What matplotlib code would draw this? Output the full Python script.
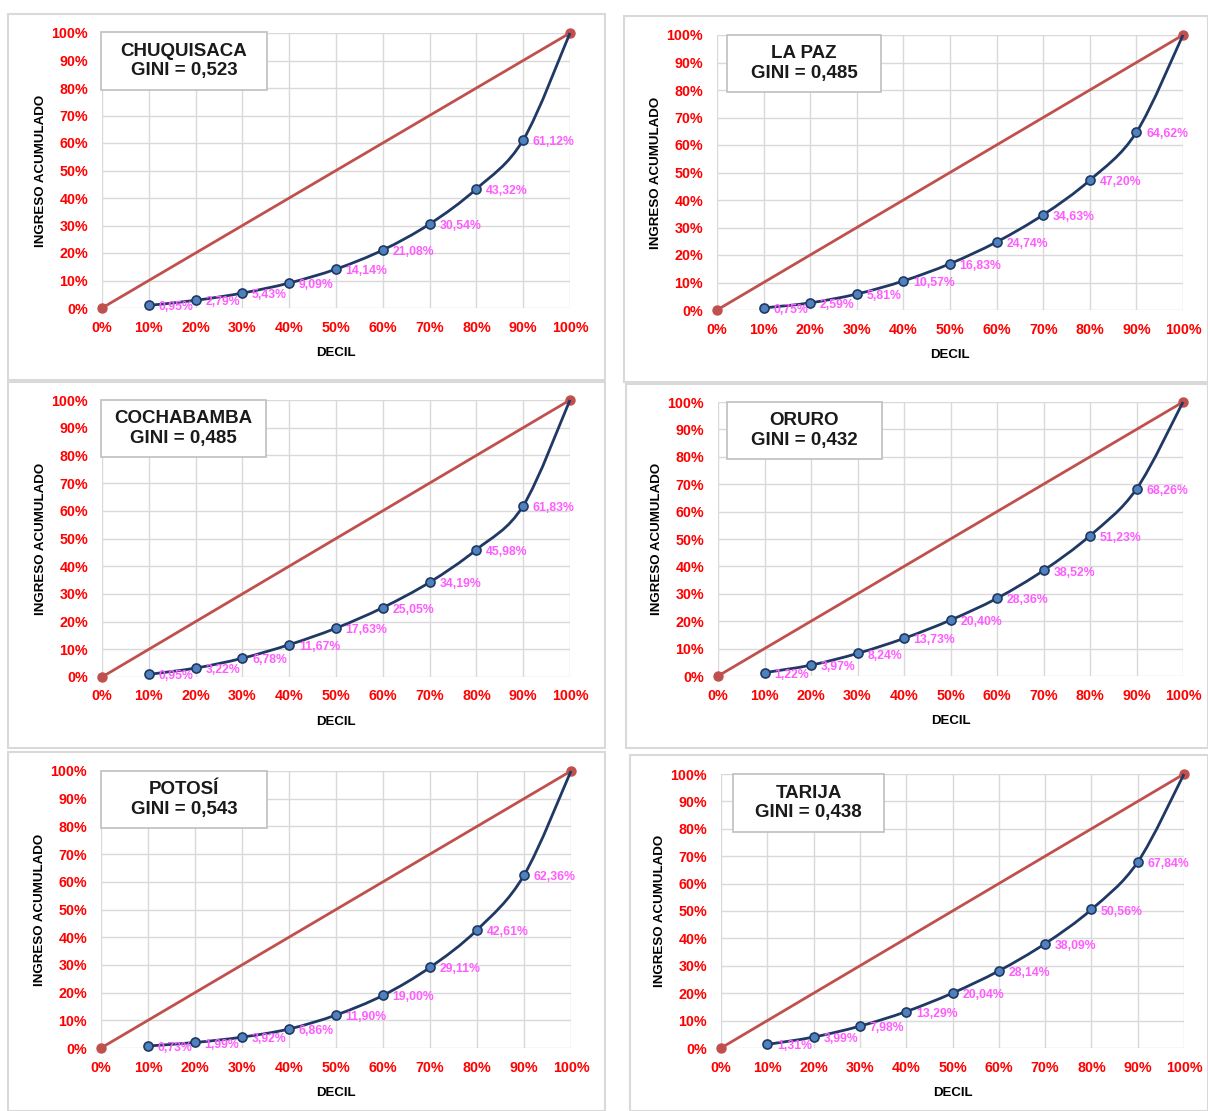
import matplotlib
matplotlib.use("Agg")
import matplotlib.pyplot as plt
from matplotlib.path import Path
from matplotlib.patches import PathPatch, Rectangle

plt.rcParams['font.family'] = ['Liberation Sans', 'DejaVu Sans']

W, H = 1208, 1111

deciles = [10, 20, 30, 40, 50, 60, 70, 80, 90]
x_ticks = [0, 10, 20, 30, 40, 50, 60, 70, 80, 90, 100]
tick_labels = ["0%", "10%", "20%", "30%", "40%", "50%", "60%", "70%", "80%", "90%", "100%"]

names = ["CHUQUISACA", "LA PAZ", "COCHABAMBA", "ORURO", "POTOSÍ", "TARIJA"]
ginis = ["0,523", "0,485", "0,485", "0,432", "0,543", "0,438"]

chuquisaca = [0.95, 2.79, 5.43, 9.09, 14.14, 21.08, 30.54, 43.32, 61.12]
la_paz = [0.75, 2.59, 5.81, 10.57, 16.83, 24.74, 34.63, 47.20, 64.62]
cochabamba = [0.95, 3.22, 6.78, 11.67, 17.63, 25.05, 34.19, 45.98, 61.83]
oruro = [1.22, 3.97, 8.24, 13.73, 20.40, 28.36, 38.52, 51.23, 68.26]
potosi = [0.73, 1.99, 3.92, 6.86, 11.90, 19.00, 29.11, 42.61, 62.36]
tarija = [1.31, 3.99, 7.98, 13.29, 20.04, 28.14, 38.09, 50.56, 67.84]
series = [chuquisaca, la_paz, cochabamba, oruro, potosi, tarija]

# layout in pixels: panel box, plot area, title box (x0,y0,x1,y1)
panels = [(8, 14, 605, 380), (624, 16, 1208, 382), (8, 382, 605, 748),
          (626, 384, 1208, 748), (8, 752, 605, 1111), (630, 755, 1208, 1111)]
plots = [(102, 33, 570, 308), (717, 35, 1183, 310), (102, 400, 570, 677),
         (718, 402, 1183, 676), (101, 771, 571, 1048), (721, 774, 1184, 1048)]
titles = [(101, 32, 267, 90), (727, 35, 881, 92), (101, 400, 266, 457),
          (727, 402, 882, 459), (101, 771, 267, 828), (733, 774, 884, 832)]

RED = "#C0504D"
NAVY = "#1F3864"
MFILL = "#4F81BD"
PINK = "#FF5CFF"

fig = plt.figure(figsize=(W / 100, H / 100), dpi=100)

for (px0, py0, px1, py1) in panels:
    fig.patches.append(Rectangle((px0 / W, 1 - py1 / H), (px1 - px0) / W, (py1 - py0) / H,
                                 transform=fig.transFigure, fill=False,
                                 edgecolor="#D9D9D9", linewidth=1.5))


def smooth_path(xs, ys):
    pts = list(zip(xs, ys))
    n = len(pts)
    verts = [pts[0]]
    codes = [Path.MOVETO]
    for i in range(n - 1):
        p0 = pts[i - 1] if i > 0 else pts[i]
        p1 = pts[i]
        p2 = pts[i + 1]
        p3 = pts[i + 2] if i + 2 < n else pts[i + 1]
        c1 = (p1[0] + (p2[0] - p0[0]) / 6, p1[1] + (p2[1] - p0[1]) / 6)
        c2 = (p2[0] - (p3[0] - p1[0]) / 6, p2[1] - (p3[1] - p1[1]) / 6)
        verts += [c1, c2, p2]
        codes += [Path.CURVE4] * 3
    return Path(verts, codes)


for k in range(6):
    x0, y0, x1, y1 = plots[k]
    ax = fig.add_axes([x0 / W, 1 - y1 / H, (x1 - x0) / W, (y1 - y0) / H])
    ax.set_xlim(0, 100)
    ax.set_ylim(0, 100)
    ax.set_xticks(x_ticks)
    ax.set_yticks(x_ticks)
    ax.set_xticklabels(tick_labels)
    ax.set_yticklabels(tick_labels)
    ax.tick_params(length=0, colors="#FF0000", labelsize=10.3)
    ax.tick_params(axis="y", pad=10)
    ax.tick_params(axis="x", pad=9)
    for lab in ax.get_xticklabels() + ax.get_yticklabels():
        lab.set_fontweight("bold")
    ax.grid(True, color="#D9D9D9", linewidth=1)
    ax.set_axisbelow(True)
    for s in ax.spines.values():
        s.set_visible(False)
    ax.set_xlabel("DECIL", fontsize=9.5, fontweight="bold", labelpad=9)
    ax.set_ylabel("INGRESO ACUMULADO", fontsize=9.6, fontweight="bold", labelpad=3)

    # equality line
    ax.plot([0, 100], [0, 100], color=RED, linewidth=2, marker="o", markersize=6.5,
            markerfacecolor=RED, markeredgecolor=RED, clip_on=False, zorder=3)

    vals = series[k]
    cx = deciles + [100]
    cy = vals + [100]
    ax.add_patch(PathPatch(smooth_path(cx, cy), facecolor="none", edgecolor=NAVY,
                           linewidth=2, zorder=4, clip_on=False))
    ax.plot(deciles, vals, linestyle="none", marker="o", markersize=6.5,
            markerfacecolor=MFILL, markeredgecolor=NAVY, markeredgewidth=1.2,
            zorder=5, clip_on=False)
    for xv, yv in zip(deciles, vals):
        ax.annotate(f"{yv:.2f}%".replace(".", ","), (xv, yv), xytext=(7, -1.5),
                    textcoords="offset points", ha="left", va="center",
                    fontsize=8.8, fontweight="bold", color=PINK, zorder=6)

    tx0, ty0, tx1, ty1 = titles[k]
    fig.text((tx0 + tx1) / 2 / W, 1 - (ty0 + ty1) / 2 / H,
             f"{names[k]}\nGINI = {ginis[k]}", ha="center", va="center",
             fontsize=13.5, fontweight="bold", color="#1A1A1A", linespacing=1.2, zorder=11)
    fig.patches.append(Rectangle((tx0 / W, 1 - ty1 / H), (tx1 - tx0) / W, (ty1 - ty0) / H,
                                 transform=fig.transFigure, facecolor="white",
                                 edgecolor="#BFBFBF", linewidth=1.2, zorder=10))

fig.savefig("out.png", dpi=100, facecolor="white")
